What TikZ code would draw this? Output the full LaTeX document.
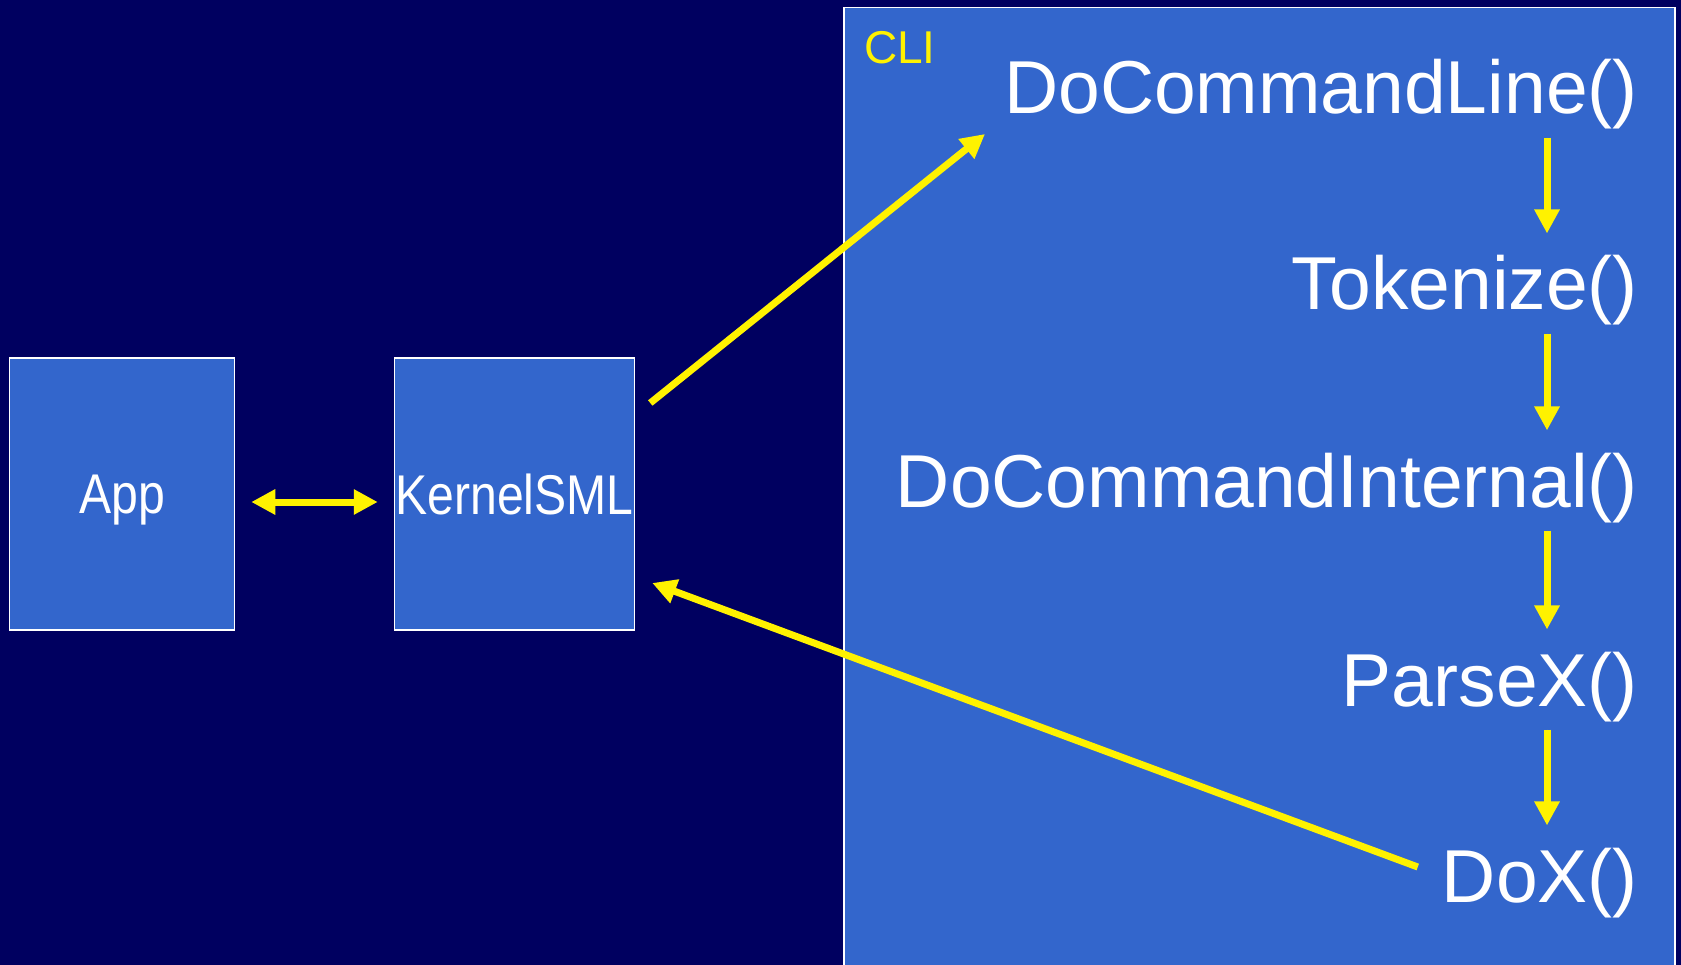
\documentclass[tikz,border=0pt]{standalone}
\usepackage{fontspec}
\setmainfont{Liberation Sans}
\usepackage{graphicx}
\usetikzlibrary{arrows.meta,calc,positioning}
\definecolor{navy}{RGB}{0,0,96}
\definecolor{boxblue}{RGB}{51,102,204}
\tikzset{>={Triangle[length=24pt,width=24pt]}}
\tikzset{blk/.style={draw=white,line width=1.5pt,fill=boxblue,text=white,inner sep=0pt,text depth=0pt,font=\fontsize{56}{60}\selectfont},
fn/.style={text=white,inner sep=0pt,anchor=base east,font=\fontsize{75}{80}\selectfont},
flw/.style={draw=yellow,fill=yellow,line width=7pt,->}}

\begin{document}
\begin{tikzpicture}[x=1pt,y=-1pt]
\useasboundingbox (0,0) rectangle (1681,965);
\fill[navy] (0,0) rectangle (1681,965);
% left hand boxes
\node[blk,minimum width=225pt,minimum height=272pt] (app) at (122,494) {\scalebox{0.86}[1]{App}};
\node[blk,minimum width=240pt,minimum height=272pt] (ksml) at (514.5,494) {\scalebox{0.86}[1]{KernelSML}};
% the CLI panel, runs off the bottom
\node[blk,anchor=north west,minimum width=831pt,minimum height=980pt] (cli) at (843,7) {};
\node[text=yellow,anchor=base west,inner sep=0pt,font=\fontsize{46}{50}\selectfont] (clilbl) at ($(cli.north west)+(21,57)$) {CLI};
% call chain
\node[fn] (cmdline) at (1638,114) {DoCommandLine()};
\node[fn] (tokenize) at (1638,310) {Tokenize()};
\node[fn] (internal) at (1638,507) {DoCommandInternal()};
\node[fn] (parsex) at (1638,706) {ParseX()};
\node[fn] (dox) at (1638,902) {DoX()};
\coordinate (col) at (1547,0);
\draw[flw,shorten <=8pt,shorten >=22pt] (cmdline.south -| col) -- (tokenize.north -| col);
\draw[flw,shorten <=8pt,shorten >=22pt] (tokenize.south -| col) -- (internal.north -| col);
\draw[flw,shorten <=8pt,shorten >=22pt] (internal.south -| col) -- (parsex.north -| col);
\draw[flw,shorten <=8pt,shorten >=22pt] (parsex.south -| col) -- (dox.north -| col);
% in and out of the kernel
\coordinate (kout) at ($(ksml.east)+(15,-91)$);
\coordinate (kin) at ($(ksml.east)+(17,89)$);
\coordinate (cin) at ($(cmdline.base west)+(-19,20)$);
\coordinate (dout) at ($(dox.base west)+(-24,-35)$);
\draw[flw] (kout) -- (cin);
\draw[flw] (dout) -- (kin);
\draw[flw,<->,shorten <=16pt,shorten >=16pt] ([yshift=-8pt]app.east) -- ([yshift=-8pt]ksml.west);
\end{tikzpicture}
\end{document}
